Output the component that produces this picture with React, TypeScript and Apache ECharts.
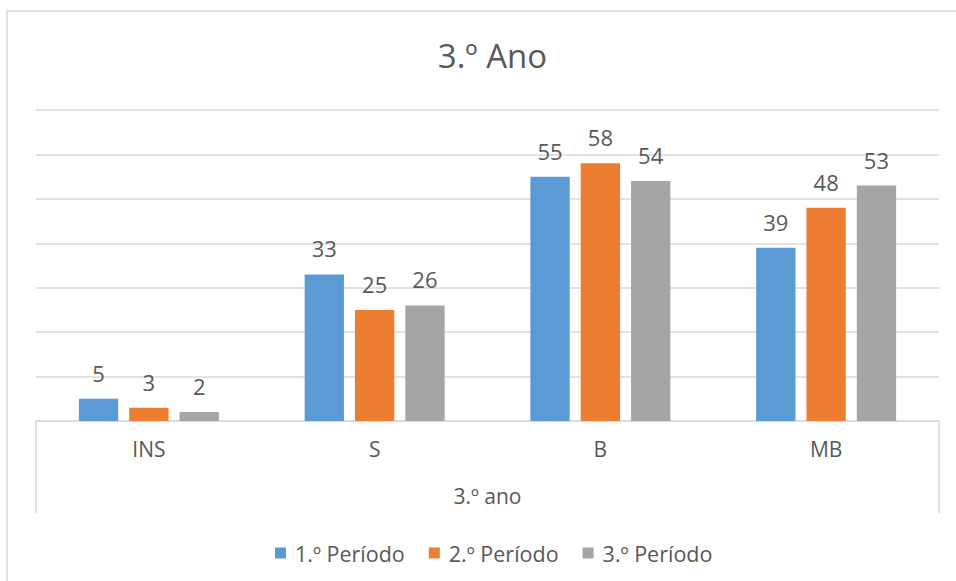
import React, { useEffect, useRef } from "react";
import * as echarts from "echarts";

const title = "3.º Ano";
const groupLabel = "3.º ano";
const categories = ["INS", "S", "B", "MB"];
const seriesNames = ["1.º Período", "2.º Período", "3.º Período"];
const periodo1 = [5, 33, 55, 39];
const periodo2 = [3, 25, 58, 48];
const periodo3 = [2, 26, 54, 53];
const colors = ["#5B9BD5", "#ED7D31", "#A5A5A5"];

const W = 956;
const H = 581;
const GL = 36;
const GR = 939;
const GT = 110;
const GB = 421;
const FONT = "'Open Sans', sans-serif";
const TXT = "#595959";
const LINE = "#D9D9D9";

export default function App() {
  const ref = useRef<HTMLDivElement>(null);
  useEffect(() => {
    if (!ref.current) return;
    const chart = echarts.init(ref.current, undefined, { renderer: "svg" });
    const values = [periodo1, periodo2, periodo3];
    chart.setOption({
      animation: false,
      backgroundColor: "#ffffff",
      textStyle: { fontFamily: FONT },
      title: {
        text: title,
        left: (GL + GR) / 2,
        textAlign: "center",
        top: 34,
        textStyle: { fontFamily: FONT, fontSize: 33, fontWeight: "normal", color: TXT },
      },
      legend: {
        data: seriesNames,
        top: 537,
        left: 270,
        itemWidth: 11,
        itemHeight: 11,
        itemGap: 24,
        icon: "rect",
        textStyle: { fontFamily: FONT, fontSize: 21.5, color: TXT, padding: [0, 0, 0, 4] },
      },
      grid: { left: GL, right: W - GR, top: GT, bottom: H - GB, containLabel: false },
      xAxis: {
        type: "category",
        data: categories,
        name: groupLabel,
        nameLocation: "middle",
        nameGap: 64,
        nameTextStyle: { fontFamily: FONT, fontSize: 21, color: TXT },
        axisLine: { show: true, lineStyle: { color: LINE, width: 1.5 } },
        axisTick: { show: false },
        axisLabel: { fontFamily: FONT, fontSize: 21, color: TXT, margin: 17 },
      },
      yAxis: {
        type: "value",
        min: 0,
        max: 70,
        interval: 10,
        axisLabel: { show: false },
        axisLine: { show: false },
        axisTick: { show: false },
        splitLine: { lineStyle: { color: LINE, width: 1.5 } },
      },
      graphic: [
        {
          type: "rect",
          shape: { x: 7, y: 11, width: 1000, height: 700 },
          style: { fill: "none", stroke: LINE, lineWidth: 1.5 },
          silent: true,
        },
        {
          type: "line",
          shape: { x1: GL, y1: GB, x2: GL, y2: 513 },
          style: { stroke: LINE, lineWidth: 1.5 },
          silent: true,
        },
        {
          type: "line",
          shape: { x1: GR, y1: GB, x2: GR, y2: 513 },
          style: { stroke: LINE, lineWidth: 1.5 },
          silent: true,
        },
      ],
      series: seriesNames.map((name, i) => ({
        name,
        type: "bar",
        data: values[i],
        itemStyle: { color: colors[i] },
        barCategoryGap: "38%",
        barGap: "28%",
        label: {
          show: true,
          position: "top",
          distance: 15,
          fontFamily: FONT,
          fontSize: 22,
          color: TXT,
        },
      })),
    });
    return () => chart.dispose();
  }, []);
  return (
    <div
      ref={ref}
      style={{ position: "absolute", left: 0, top: 0, width: W, height: H }}
    />
  );
}
